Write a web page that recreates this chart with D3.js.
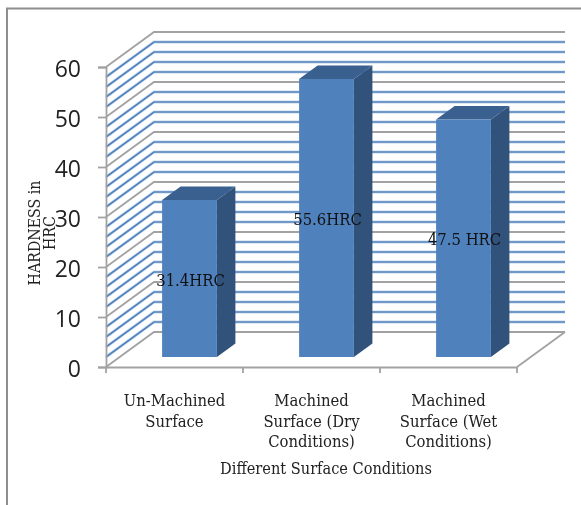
<!DOCTYPE html>
<html>
<head>
<meta charset="utf-8">
<script src="https://cdn.jsdelivr.net/npm/d3@7"></script>
<style>
  html, body { margin: 0; padding: 0; background: #fff; overflow: hidden; }
  svg { display: block; filter: blur(0.4px); }
</style>
</head>
<body>
<div id="chart"></div>
<script>
// data
const categories = ["Un-Machined Surface", "Machined Surface (Dry Conditions)", "Machined Surface (Wet Conditions)"];
const categoryLines = [["Un-Machined", "Surface"], ["Machined", "Surface (Dry", "Conditions)"], ["Machined", "Surface (Wet", "Conditions)"]];
const hardness = [31.4, 55.6, 47.5];
const barLabels = ["31.4HRC", "55.6HRC", "47.5 HRC"];
const yTicks = [0, 10, 20, 30, 40, 50, 60];
const minorLines = [2, 4, 6, 8, 12, 14, 16, 18, 22, 24, 26, 28, 32, 34, 36, 38, 42, 44, 46, 48, 52, 54, 56, 58];

const width = 581, height = 505;
const serif = "'DejaVu Serif Condensed', 'DejaVu Serif', serif";
const depthX = 48, depthY = -35;     // wall depth
const barDX = 18.5, barDY = -13.5;   // bar depth
const barLift = 10, barShift = 15;   // bars stand in the middle of the floor

const svg = d3.select("#chart").append("svg")
    .attr("width", width)
    .attr("height", height);

// outer frame, only top and left are inside the picture
svg.append("path")
    .attr("d", "M7,505V8.5H581")
    .attr("fill", "none")
    .attr("stroke", "#8e8e8e")
    .attr("stroke-width", 2);

const x = d3.scaleBand()
    .domain(categories)
    .range([106, 517])
    .paddingInner(0.6)
    .paddingOuter(0.3);

const y = d3.scaleLinear()
    .domain([0, 60])
    .range([367, 67]);

const wall = v => `M${x.range()[0]},${y(v)}l${depthX},${depthY}H${x.range()[1] + depthX}`;

// back wall lines, pale halo first because the original is a bit smeared
svg.append("g").selectAll("path")
    .data(minorLines)
    .join("path")
    .attr("d", wall)
    .attr("fill", "none")
    .attr("stroke", "#d6e2f1")
    .attr("stroke-width", 3.4);

svg.append("g").selectAll("path")
    .data(minorLines)
    .join("path")
    .attr("d", wall)
    .attr("fill", "none")
    .attr("stroke", "#4f81bd")
    .attr("stroke-width", 1.6);

svg.append("g").selectAll("path")
    .data(yTicks)
    .join("path")
    .attr("d", wall)
    .attr("fill", "none")
    .attr("stroke", "#a2a2a2")
    .attr("stroke-width", 1.8);

// floor edge on the right
svg.append("path")
    .attr("d", `M517,${y(0)}l${depthX},${depthY}`)
    .attr("stroke", "#a2a2a2")
    .attr("stroke-width", 1.8);

// Y axis
const yAxis = svg.append("g")
    .attr("transform", "translate(106,0)")
    .call(d3.axisLeft(y).tickValues(yTicks).tickSize(8).tickPadding(17));
yAxis.selectAll("path, line").attr("stroke", "#a2a2a2").attr("stroke-width", 1.8);
yAxis.selectAll("text")
    .attr("dy", "0.42em")
    .attr("style", "font-family: 'Open Sans', sans-serif; font-size: 23px")
    .attr("fill", "#222");

// X axis, ticks sit between the categories
const xAxis = svg.append("g")
    .attr("transform", `translate(0,${y(0)})`)
    .call(d3.axisBottom(x).tickValues([]).tickSize(0));
xAxis.select("path").attr("stroke", "#a2a2a2").attr("stroke-width", 1.8);
xAxis.selectAll("line.sep")
    .data(d3.range(categories.length + 1))
    .join("line")
    .attr("class", "sep")
    .attr("x1", i => x.range()[0] + i * x.step())
    .attr("x2", i => x.range()[0] + i * x.step())
    .attr("y1", 0)
    .attr("y2", 6)
    .attr("stroke", "#a2a2a2")
    .attr("stroke-width", 1.8);

// bars
const barBase = y(0) - barLift;
const bars = svg.append("g").selectAll("g")
    .data(categories)
    .join("g");

const left = (d) => x(d) + barShift;
const top_ = (d, i) => y(hardness[i]) - barLift;

bars.append("path")
    .attr("d", (d, i) => `M${left(d) + x.bandwidth()},${top_(d, i)}l${barDX},${barDY}V${barBase + barDY}l${-barDX},${-barDY}Z`)
    .attr("fill", "#31527b");

bars.append("path")
    .attr("d", (d, i) => `M${left(d)},${top_(d, i)}l${barDX},${barDY}h${x.bandwidth()}l${-barDX},${-barDY}Z`)
    .attr("fill", "#3a6090");

bars.append("rect")
    .attr("x", left)
    .attr("y", top_)
    .attr("width", x.bandwidth())
    .attr("height", (d, i) => barBase - top_(d, i))
    .attr("fill", "#4f81bd");

// labels inside the bars
bars.append("text")
    .attr("x", d => left(d) + x.bandwidth() / 2 + 1)
    .attr("y", (d, i) => (top_(d, i) + barBase) / 2 + 7)
    .attr("text-anchor", "middle")
    .attr("style", `font-family: ${serif}; font-size: 16.5px`)
    .attr("fill", "#111")
    .text((d, i) => barLabels[i]);

// category labels
svg.append("g").selectAll("text")
    .data(categories)
    .join("text")
    .attr("text-anchor", "middle")
    .attr("style", `font-family: ${serif}; font-size: 16.5px`)
    .attr("fill", "#222")
    .each(function (d, i) {
        d3.select(this).selectAll("tspan")
            .data(categoryLines[i])
            .join("tspan")
            .attr("x", x(d) + x.bandwidth() / 2)
            .attr("y", (l, j) => 406 + j * 20.5)
            .text(l => l);
    });

// axis titles
svg.append("text")
    .attr("x", 326)
    .attr("y", 474)
    .attr("text-anchor", "middle")
    .attr("style", `font-family: ${serif}; font-size: 16.2px`)
    .attr("fill", "#222")
    .text("Different Surface Conditions");

const yTitle = svg.append("text")
    .attr("transform", "translate(40,233) rotate(-90)")
    .attr("text-anchor", "middle")
    .attr("style", `font-family: ${serif}; font-size: 15.8px`)
    .attr("fill", "#222");
yTitle.append("tspan").attr("x", 0).attr("y", 0).text("HARDNESS in");
yTitle.append("tspan").attr("x", 0).attr("y", 15).text("HRC");
</script>
</body>
</html>
